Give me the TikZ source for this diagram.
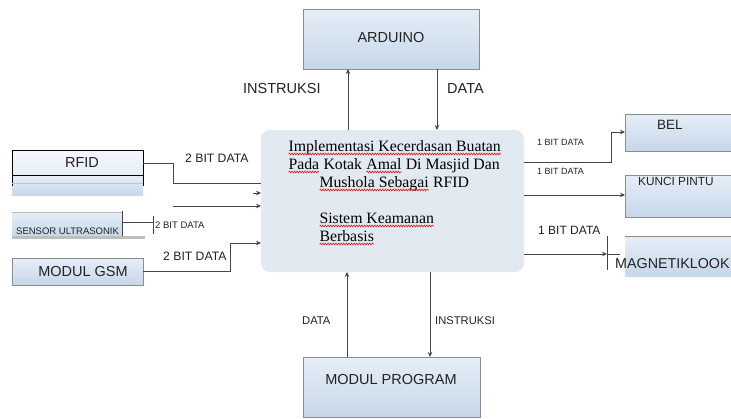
\documentclass[tikz,border=0pt]{standalone}
\usepackage{fontspec}
\setmainfont{Liberation Serif}
\setsansfont{Liberation Sans}
\usetikzlibrary{arrows.meta,decorations.pathmorphing}
\definecolor{boxtop}{HTML}{E6EEF7}
\definecolor{boxbot}{HTML}{C6D7EA}
\definecolor{rfidtop}{HTML}{F4F7FB}
\definecolor{boxline}{HTML}{8C8C8C}
\definecolor{mainfill}{HTML}{E2E9F1}
\definecolor{mainline}{HTML}{9A9A9A}
\definecolor{lin}{HTML}{454545}
\definecolor{txt}{HTML}{222222}
\definecolor{wavered}{HTML}{E02020}
\newcommand\rwv[1]{\tikz[baseline=(w.base), x=1pt, y=1pt]{\node[inner sep=0pt, outer sep=0pt, anchor=base west] (w) at (0,0) {#1};\draw[wavered, line width=0.65pt, decorate, decoration={snake, segment length=2.6pt, amplitude=0.9pt}] ([yshift=-3pt]w.base west) -- ([yshift=-3pt]w.base east);}}
\begin{document}
\begin{tikzpicture}[x=1pt,y=-1pt,
  bx/.style={draw=boxline, line width=0.8pt, top color=boxtop, bottom color=boxbot, inner sep=0pt, outer sep=0pt, anchor=north west},
  area/.style={draw=none, inner sep=0pt, outer sep=0pt, anchor=north west},
  lbl/.style={font=\sffamily\fontsize{#1}{#1}\selectfont, text=txt, inner sep=0pt, anchor=base west},
  mtxt/.style={font=\fontsize{15.8}{18}\selectfont, text=black, inner sep=0pt, anchor=base west},
  con/.style={draw=lin, line width=0.8pt},
  arr/.style={con, -{Stealth[length=5pt,width=4.5pt]}}]
\clip (0,0) rectangle (731,418);
\fill[white] (0,0) rectangle (731,418);

% main box
\node[draw=mainline, line width=1pt, fill=mainfill, rounded corners=9pt, minimum width=263pt, minimum height=142pt, area] (main) at (261,130) {};
\node[mtxt] (t1) at (288,151) {\rwv{Implementasi Kecerdasan Buatan}};
\node[mtxt] (t2) at (288,169) {\rwv{Pada} Kotak \rwv{Amal} Di Masjid Dan};
\node[mtxt] (t3) at (319,187) {\rwv{Mushola Sebagai} RFID};
\node[mtxt] (t4) at (319,223) {\rwv{Sistem Keamanan}};
\node[mtxt] (t5) at (319,241) {\rwv{Berbasis}};

% ARDUINO
\node[bx, minimum width=176pt, minimum height=60pt] (ard) at (303,9) {};
\node[lbl=14.5, anchor=center] (ardt) at (391,38) {ARDUINO};
\coordinate (xa) at (348,0);
\coordinate (xb) at (437,0);
\draw[arr] (main.north -| xa) -- (ard.south -| xa);
\draw[arr] (ard.south -| xb) -- (main.north -| xb);
\node[lbl=14.5] (ins1) at (243,93) {INSTRUKSI};
\node[lbl=14.5] (dat1) at (447,93) {DATA};

% MODUL PROGRAM
\node[bx, minimum width=177pt, minimum height=60pt] (mp) at (303,357) {};
\node[lbl=14.5, anchor=center] (mpt) at (391,380) {MODUL PROGRAM};
\coordinate (xc) at (347,0);
\coordinate (xd) at (430,0);
\draw[arr] (mp.north -| xc) -- (main.south -| xc);
\draw[arr] (main.south -| xd) -- (mp.north -| xd);
\node[lbl=11.2] (dat2) at (302,324) {DATA};
\node[lbl=11.2] (ins2) at (435,324) {INSTRUKSI};

% RFID
\fill[top color=rfidtop, bottom color=boxtop] (12,150) rectangle (143,175);
\fill[top color=boxtop, bottom color=boxbot] (12,175) rectangle (143,195);
\node[area, minimum width=131pt, minimum height=26pt] (rfid) at (12,150) {};
\coordinate (ry) at (0,186);
\draw[black, line width=0.9pt] (rfid.west |- ry) -- (rfid.north west) -- (rfid.north east) -- (rfid.east |- ry);
\draw[black, line width=0.8pt] (12,175) -- (143,175);
\draw[gray!45, line width=0.8pt] (12,183) -- (143,183);
\node[lbl=14.5, anchor=center] (rfidt) at (82,163) {RFID};
\coordinate (r1) at (173,183);
\draw[con] (rfid.east) -| (r1) -- (main.west |- r1);
\coordinate (r2) at (253,193);
\draw[arr] (r2) -- (main.west |- r2);
\coordinate (r3) at (173,206);
\draw[arr] (r3) -- (main.west |- r3);
\node[lbl=12.2] (l1) at (185,162.5) {2 BIT DATA};

% SENSOR ULTRASONIK
\fill[top color=boxtop, bottom color=boxbot] (12,212) rectangle (122,236);
\fill[gray!50] (12,236) rectangle (145,239);
\draw[gray!55, line width=0.8pt] (12,212) -- (122,212);
\node[area, minimum width=110pt, minimum height=23pt] (sens) at (12,210.5) {};
\coordinate (sy) at (0,236);
\draw[lin, line width=0.8pt] (sens.north east) -- (sens.east |- sy);
\node[lbl=9.5] (senst) at (16,234.5) {SENSOR ULTRASONIK};
\coordinate (s1) at (153,222);
\draw[con] (sens.east) -- (s1);
\draw[con] ([yshift=6pt]s1) -- ([yshift=-12pt]s1);
\node[lbl=9.5] (l2) at (155,228.5) {2 BIT DATA};

% MODUL GSM
\node[bx, minimum width=131pt, minimum height=27pt] (gsm) at (12,258) {};
\node[lbl=14.5, anchor=center] (gsmt) at (83,271.5) {MODUL GSM};
\coordinate (g1) at (230,243);
\draw[arr] (gsm.east) -| (g1) -- (main.west |- g1);
\node[lbl=12.2] (l3) at (163,260) {2 BIT DATA};

% BEL
\node[bx, minimum width=120pt, minimum height=37pt] (bel) at (625,114) {};
\node[lbl=13.5] (belt) at (657,129) {BEL};
\coordinate (b0) at (0,162);
\coordinate (b1) at (611,132);
\draw[arr] (main.east |- b0) -| (b1) -- (bel.west |- b1);
\node[lbl=9] (l4) at (537,145) {1 BIT DATA};

% KUNCI PINTU
\node[bx, minimum width=120pt, minimum height=42pt] (kunci) at (625,175) {};
\node[lbl=11.8] (kuncit) at (638,185) {KUNCI PINTU};
\coordinate (k0) at (0,195);
\draw[arr] (main.east |- k0) -- (kunci.west |- k0);
\node[lbl=9] (l5) at (537,174) {1 BIT DATA};

% MAGNETIKLOOK
\node[area, minimum width=120pt, minimum height=40pt, top color=boxtop, bottom color=boxbot] (mag) at (625,236) {};
\draw[boxline, line width=0.8pt] (mag.north west) -- (mag.north east);
\node[lbl=14.3] (magt) at (615,268) {MAGNETIKLOOK};
\coordinate (m1) at (607,254);
\coordinate (m2) at (620,254);
\draw[arr] (main.east |- m1) -- (m1);
\draw[con] (m1) -- (m2);
\draw[con] ([yshift=18pt]m1) -- ([yshift=-16pt]m1);
\node[lbl=12] (l6) at (538,234) {1 BIT DATA};
\end{tikzpicture}
\end{document}
